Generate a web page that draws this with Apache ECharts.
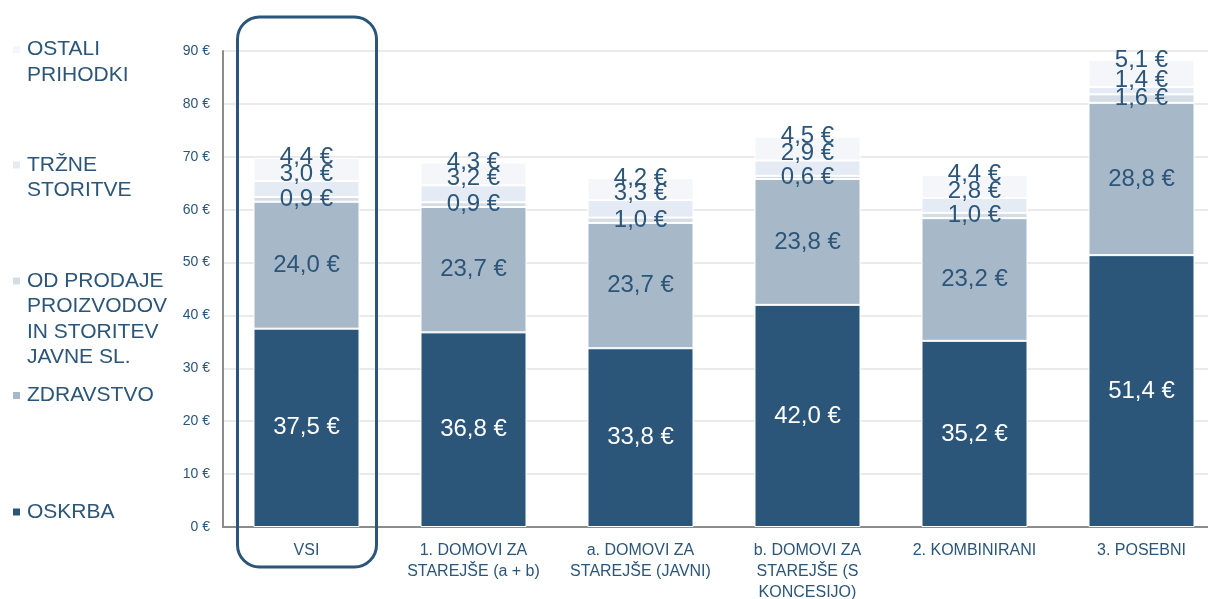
<!DOCTYPE html>
<html>
<head>
<meta charset="utf-8">
<script src="https://cdn.jsdelivr.net/npm/echarts@6/dist/echarts.min.js"></script>
<style>
html,body{margin:0;padding:0;background:#fff;}
#c{width:1208px;height:599px;}
</style>
</head>
<body>
<div id="c"></div>
<script>
var categories = ['VSI', '1. DOMOVI ZA\nSTAREJŠE (a + b)', 'a. DOMOVI ZA\nSTAREJŠE (JAVNI)', 'b. DOMOVI ZA\nSTAREJŠE (S\nKONCESIJO)', '2. KOMBINIRANI', '3. POSEBNI'];
var oskrba = [37.5, 36.8, 33.8, 42.0, 35.2, 51.4];
var zdravstvo = [24.0, 23.7, 23.7, 23.8, 23.2, 28.8];
var odProdaje = [0.9, 0.9, 1.0, 0.6, 1.0, 1.6];
var trzne = [3.0, 3.2, 3.3, 2.9, 2.8, 1.4];
var ostali = [4.4, 4.3, 4.2, 4.5, 4.4, 5.1];
var yTicks = [0, 10, 20, 30, 40, 50, 60, 70, 80, 90];

var seriesNames = ['OSKRBA', 'ZDRAVSTVO', 'OD PRODAJE PROIZVODOV IN STORITEV JAVNE SL.', 'TRŽNE STORITVE', 'OSTALI PRIHODKI'];
var legendLines = {
  'OSTALI PRIHODKI': ['OSTALI', 'PRIHODKI'],
  'TRŽNE STORITVE': ['TRŽNE', 'STORITVE'],
  'OD PRODAJE PROIZVODOV IN STORITEV JAVNE SL.': ['OD PRODAJE', 'PROIZVODOV', 'IN STORITEV', 'JAVNE SL.'],
  'ZDRAVSTVO': ['ZDRAVSTVO'],
  'OSKRBA': ['OSKRBA']
};

var DARK = '#2B5579';
var colors = ['#2B5579', '#A7B8C9', '#D4DCE5', '#E4EBF4', '#F4F6F9'];
var FONT = "'Liberation Sans', Arial, sans-serif";
var LH = 25.5;
var LABEL_SIZE = 24;

function fmt(v) { return v.toFixed(1).replace('.', ',') + ' €'; }

var chart = echarts.init(document.getElementById('c'), null, {renderer: 'canvas'});

function mkLegend(name, firstLineCenter) {
  var lines = legendLines[name];
  var k = lines.length;
  return {
    data: [name],
    orient: 'vertical',
    left: 11,
    top: firstLineCenter - (k - 1) * LH - LH / 2,
    padding: 0,
    icon: 'rect',
    itemWidth: 9,
    itemHeight: 9,
    itemGap: 0,
    selectedMode: false,
    textStyle: {color: DARK, fontSize: 21, fontFamily: FONT, lineHeight: LH, padding: [0, 0, 0, 1]},
    formatter: function (n) {
      var l = legendLines[n];
      var pre = '';
      for (var i = 1; i < l.length; i++) pre += '\n';
      return pre + l.join('\n');
    }
  };
}

function lbl(color, position, distance) {
  var o = {show: true, position: position, color: color, fontSize: LABEL_SIZE, fontFamily: FONT,
    formatter: function (p) { return fmt(p.value); }};
  if (distance !== undefined) o.distance = distance;
  return o;
}

function mkSeries(i, data, label) {
  return {
    name: seriesNames[i],
    type: 'bar',
    stack: 'total',
    data: data,
    barWidth: 106,
    itemStyle: {color: colors[i], borderColor: '#ffffff', borderWidth: 1},
    label: label,
    emphasis: {disabled: true},
    z: 2
  };
}

chart.setOption({
  animation: false,
  backgroundColor: '#ffffff',
  legend: [
    mkLegend('OSTALI PRIHODKI', 49.5),
    mkLegend('TRŽNE STORITVE', 165),
    mkLegend('OD PRODAJE PROIZVODOV IN STORITEV JAVNE SL.', 281),
    mkLegend('ZDRAVSTVO', 395.5),
    mkLegend('OSKRBA', 512)
  ],
  grid: {left: 223, top: 51, width: 1002, height: 476, outerBoundsMode: 'none', containLabel: false},
  xAxis: {
    type: 'category',
    data: categories,
    axisTick: {show: false},
    axisLine: {show: true, lineStyle: {color: '#8C8C8C', width: 2}},
    axisLabel: {interval: 0, color: DARK, fontSize: 16, fontFamily: FONT, lineHeight: 21, margin: 13}
  },
  yAxis: {
    type: 'value',
    min: yTicks[0],
    max: yTicks[yTicks.length - 1],
    interval: yTicks[1] - yTicks[0],
    axisLine: {show: true, lineStyle: {color: '#8C8C8C', width: 2}},
    axisTick: {show: false},
    splitLine: {show: true, lineStyle: {color: '#EAEAEA', width: 2}},
    axisLabel: {color: DARK, fontSize: 14, fontFamily: FONT, margin: 13, formatter: function (v) { return v + ' €'; }}
  },
  series: [
    mkSeries(0, oskrba, lbl('#ffffff', 'inside')),
    mkSeries(1, zdravstvo, lbl(DARK, 'inside')),
    mkSeries(2, odProdaje, lbl(DARK, 'inside')),
    mkSeries(3, trzne, lbl(DARK, 'top', -5)),
    mkSeries(4, ostali, lbl(DARK, 'top', -12))
  ]
});

var cx = chart.convertToPixel({xAxisIndex: 0}, 0);
chart.setOption({
  graphic: [{
    type: 'rect',
    z: 100,
    shape: {x: cx - 69, y: 17, width: 139, height: 550, r: 22},
    style: {fill: 'none', stroke: DARK, lineWidth: 3}
  }]
});
</script>
</body>
</html>
